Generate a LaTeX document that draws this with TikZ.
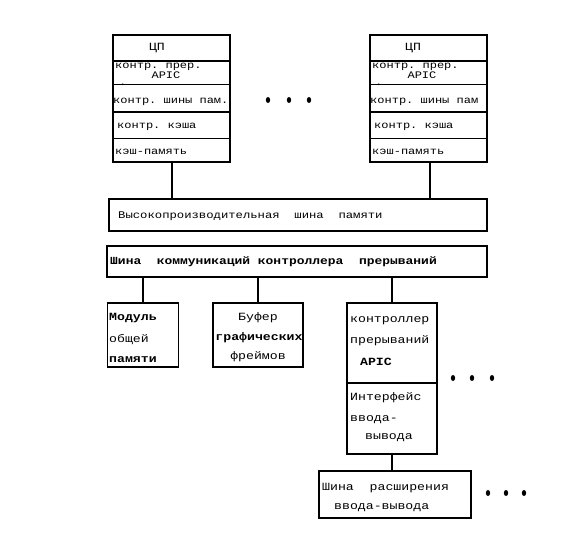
\documentclass[tikz,border=0pt]{standalone}
\usepackage{fontspec}
\newfontfamily\wmono[FakeStretch=1.2]{Liberation Mono}
\tikzset{
  box/.style={draw, line width=1.2pt, inner sep=0pt},
  conn/.style={line width=1.6pt},
  sep/.style={line width=0.8pt},
  thsep/.style={line width=1.8pt},
  tl/.style={inner sep=0pt, anchor=west, font=\wmono\fontsize{11}{11}\selectfont},
  tc/.style={inner sep=0pt, font=\wmono\fontsize{11}{11}\selectfont},
  cl/.style={inner sep=0pt, anchor=west, font=\wmono\fontsize{10}{10}\selectfont},
  cc/.style={inner sep=0pt, font=\wmono\fontsize{10}{10}\selectfont},
  dot/.style={fill=black}
}
\begin{document}
\begin{tikzpicture}[x=1pt,y=-1pt]
\useasboundingbox (0,0) rectangle (566,544);
% CPU boxes
\node[box, minimum width=117pt, minimum height=127pt] (cpu1) at (171.5,98.5) {};
\node[box, minimum width=117pt, minimum height=127pt] (cpu2) at (428.5,98.5) {};
\foreach \c/\dx in {cpu1/0, cpu2/257} {
  \draw[thsep] (\c.west |- 0,61) -- (\c.east |- 0,61);
  \draw[sep] (\c.west |- 0,84) -- (\c.east |- 0,84);
  \draw[thsep] (\c.west |- 0,112) -- (\c.east |- 0,112);
  \draw[sep] (\c.west |- 0,138) -- (\c.east |- 0,138);
}
\node[cc, font=\wmono\fontsize{11}{11}\selectfont] (c1a) at (157,48) {ЦП};
\node[cl] (c1b) at (115,67) {контр.\ прер.};
\node[cc] (c1c) at (166,75) {APIC};
\node[cl] (c1d) at (119,85) {.};
\node[cl] (c1e) at (113,102) {контр.\ шины пам.};
\node[cl] (c1f) at (117,127) {контр.\ кэша};
\node[cl] (c1g) at (115,152) {кэш-память};
\node[cc, font=\wmono\fontsize{11}{11}\selectfont] (c2a) at (413,48) {ЦП};
\node[cl] (c2b) at (372,67) {контр.\ прер.};
\node[cc] (c2c) at (422,75) {APIC};
\node[cl] (c2d) at (375,85) {.};
\node[cl] (c2e) at (370,102) {контр.\ шины пам};
\node[cl] (c2f) at (374,127) {контр.\ кэша};
\node[cl] (c2g) at (372,152) {кэш-память};
% dots between CPUs
\foreach \x in {268,289,309} \fill[dot] (\x,100) ellipse (2.2pt and 3pt);
% buses
\node[box, minimum width=378pt, minimum height=32pt] (bus1) at (298,215) {};
\node[cl, font=\wmono\fontsize{10.2}{10.2}\selectfont] (bus1t) at (118,216) {Высокопроизводительная\ \ шина\ \ памяти};
\node[box, minimum width=380pt, minimum height=31pt] (bus2) at (297,261.5) {};
\node[tl, font=\wmono\bfseries\fontsize{10.8}{10.8}\selectfont] (bus2t) at (110,262) {Шина\ \ коммуникаций\ контроллера\ \ прерываний};
\draw[conn] (172,0 |- cpu1.south) -- (172,0 |- bus1.north);
\draw[conn] (430,0 |- cpu2.south) -- (430,0 |- bus1.north);
% lower boxes
\node[box, minimum width=71pt, minimum height=64pt] (mod) at (143,335) {};
\node[box, minimum width=90pt, minimum height=64pt] (buf) at (258,335) {};
\node[box, minimum width=90pt, minimum height=151pt] (apic) at (392,378.5) {};
\draw[sep, line width=1.2pt] (apic.west |- 0,383) -- (apic.east |- 0,383);
\draw[conn] (bus2.south -| mod.north) -- (mod.north);
\draw[conn] (bus2.south -| buf.north) -- (buf.north);
\draw[conn] (bus2.south -| apic.north) -- (apic.north);
\node[tl, font=\wmono\bfseries\fontsize{11}{11}\selectfont] (m1) at (109,318) {Модуль};
\node[tl] (m2) at (109,340) {общей};
\node[tl, font=\wmono\bfseries\fontsize{11}{11}\selectfont] (m3) at (109,360) {памяти};
\node[tc] (b1) at (258,318) {Буфер};
\node[tc, font=\wmono\bfseries\fontsize{11}{11}\selectfont] (b2) at (259,338) {графических};
\node[tc] (b3) at (258,357) {фреймов};
\node[tl] (a1) at (350,321) {контроллер};
\node[tl] (a2) at (350,341) {прерываний};
\node[tc, font=\wmono\bfseries\fontsize{11}{11}\selectfont] (a3) at (376,362) {APIC};
\node[tl] (a4) at (350,398) {Интерфейс};
\node[tl] (a5) at (350,420) {ввода-};
\node[tl] (a6) at (365,438) {вывода};
\foreach \x in {453,472,492} \fill[dot] (\x,378) ellipse (2.2pt and 3pt);
% IO expansion bus
\node[box, minimum width=152pt, minimum height=47pt] (io) at (395,494.5) {};
\draw[conn] (apic.south) -- (apic.south |- io.north);
\node[tl] (i1) at (322,488) {Шина\ \ расширения};
\node[tl] (i2) at (334,508) {ввода-вывода};
\foreach \x in {488,506,524} \fill[dot] (\x,493) ellipse (2.2pt and 3pt);
\end{tikzpicture}
\end{document}
